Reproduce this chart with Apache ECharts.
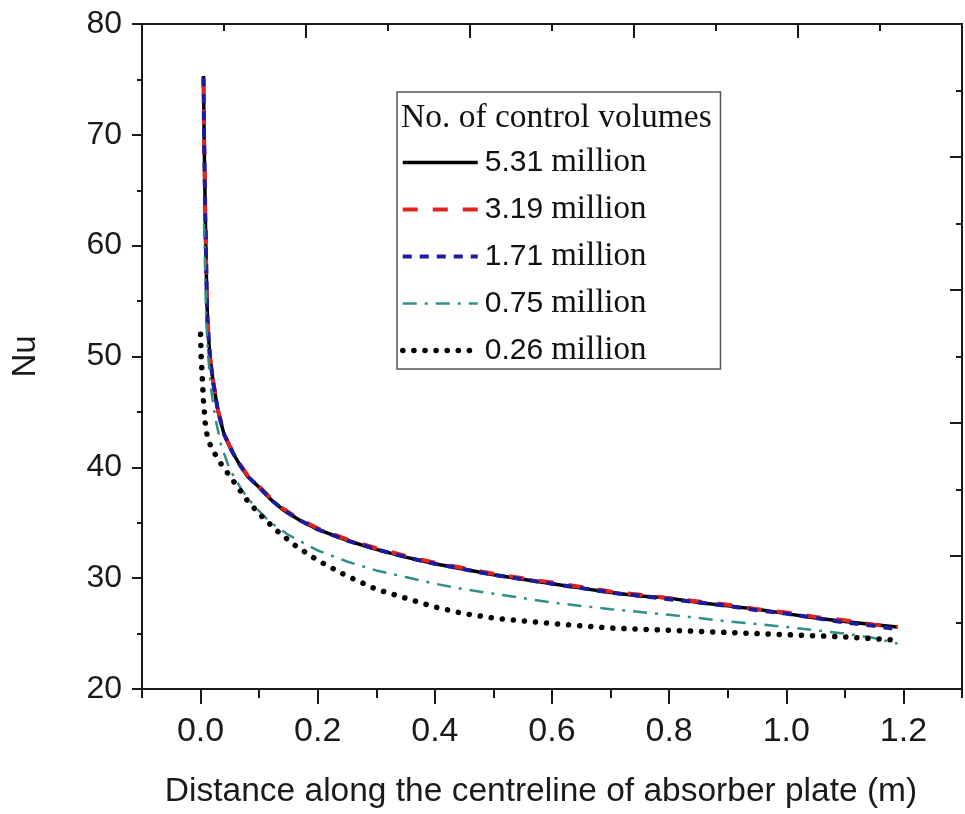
<!DOCTYPE html>
<html>
<head>
<meta charset="utf-8">
<script src="https://cdn.jsdelivr.net/npm/echarts@6/dist/echarts.min.js"></script>
<style>
html,body{margin:0;padding:0;background:#fff}
#chart{width:965px;height:814px}
</style>
</head>
<body>
<div id="chart"></div>
<script>
// distance along centreline (m) for the fine grids
var xFine = [0.005,0.006,0.008,0.010,0.012,0.016,0.022,0.03,0.04,0.05,0.066,0.08,0.1,0.12,0.14,0.17,0.2,0.25,0.3,0.35,0.4,0.45,0.5,0.55,0.6,0.65,0.7,0.75,0.8,0.85,0.9,0.95,1.0,1.05,1.1,1.15,1.19];
var nu531 = [75.3,70,63,57,53,50,47.5,45,43,41.8,40.3,39.2,38.2,37.1,36.2,35.2,34.4,33.4,32.6,31.9,31.3,30.8,30.3,29.9,29.5,29.1,28.7,28.4,28.2,27.8,27.5,27.2,26.8,26.4,26.1,25.8,25.6];
var nu319 = [75.0,69.8,62.8,56.9,53.0,50.0,47.6,45.1,43.1,41.9,40.4,39.3,38.3,37.2,36.3,35.3,34.5,33.5,32.7,32.0,31.4,30.9,30.4,30.0,29.6,29.2,28.8,28.5,28.2,27.9,27.6,27.2,26.9,26.5,26.2,25.8,25.6];
var nu171 = [75.2,69.9,62.9,57.0,53.0,50.0,47.5,45.0,43.0,41.8,40.3,39.2,38.2,37.1,36.2,35.2,34.4,33.4,32.6,31.9,31.3,30.8,30.3,29.9,29.5,29.1,28.7,28.4,28.1,27.8,27.5,27.1,26.8,26.4,26.0,25.7,25.4];
// 0.75 million
var x075 = [0.006,0.008,0.010,0.013,0.018,0.025,0.035,0.05,0.07,0.09,0.12,0.15,0.2,0.25,0.3,0.35,0.4,0.45,0.5,0.6,0.7,0.8,0.9,1.0,1.1,1.15,1.19];
var nu075 = [62,57,53,50,47,44.5,42,39.8,38,36.6,35,33.9,32.5,31.5,30.7,30.1,29.5,29.0,28.6,27.8,27.2,26.7,26.1,25.6,25.0,24.6,24.1];
// 0.26 million
var x026 = [0.0,0.001,0.003,0.005,0.008,0.012,0.02,0.035,0.05,0.065,0.08,0.1,0.13,0.16,0.2,0.25,0.3,0.35,0.4,0.45,0.5,0.6,0.7,0.8,0.9,1.0,1.1,1.19];
var nu026 = [52,50,48,46,44,42.6,41.6,40.3,39.2,38.1,37.0,35.8,34.3,33.0,31.6,30.2,29.0,28.2,27.4,26.8,26.4,25.9,25.5,25.3,25.1,24.9,24.7,24.4];

var names = ['5.31 million','3.19 million','1.71 million','0.75 million','0.26 million'];
var xTickLabels = ['-0.1','0.0','0.1','0.2','0.3','0.4','0.5','0.6','0.7','0.8','0.9','1.0','1.1','1.2','1.3'];

function pairs(xs, ys) {
    var out = [];
    for (var i = 0; i < xs.length; i++) out.push([xs[i], ys[i]]);
    return out;
}

var styles = [
    {color: '#000', width: 3.5, type: 'solid'},
    {color: '#e3231e', width: 4, type: [15, 15]},
    {color: '#1c1c9c', width: 4, type: [9, 8]},
    {color: '#2f8f8a', width: 2.5, type: [14, 8, 3, 8]},
    {color: '#000', width: 5.5, type: [0.1, 11], cap: 'round'}
];
var lineData = [pairs(xFine, nu531), pairs(xFine, nu319), pairs(xFine, nu171), pairs(x075, nu075), pairs(x026, nu026)];

var axisCol = '#1a1a1a';
var myChart = echarts.init(document.getElementById('chart'));

var option = {
    backgroundColor: '#fff',
    animation: false,
    grid: {left: 142, right: 3, top: 24, bottom: 124, containLabel: false},
    graphic: [{
        type: 'text', left: 401, top: 101, z: 100,
        style: {text: 'No. of control volumes', fontFamily: 'Liberation Serif', fontSize: 33.5, fill: '#111'}
    }],
    legend: {
        orient: 'vertical', left: 397, top: 92,
        data: names.map(function (n, i) {
            return {name: n, lineStyle: styles[i], itemStyle: {opacity: 0}};
        }),
        itemWidth: 75, itemHeight: 14, itemGap: 14,
        padding: [54, 74, 2, 3],
        borderColor: '#555', borderWidth: 1.5, borderRadius: 0,
        backgroundColor: '#fff',
        itemStyle: {opacity: 0},
        formatter: function (n) { return '{n|' + n.split(' ')[0] + '}{m|million}'; },
        textStyle: {
            lineHeight: 32,
            rich: {
                n: {fontFamily: 'Liberation Sans', fontSize: 30, color: '#111', padding: [0, 8, 0, 2]},
                m: {fontFamily: 'Liberation Serif', fontSize: 33, color: '#111'}
            }
        }
    },
    xAxis: [{
        type: 'value', position: 'bottom', min: -0.1, max: 1.3, interval: 0.1,
        axisLine: {show: true, onZero: false, lineStyle: {color: axisCol, width: 2}},
        axisTick: {show: true, inside: false, length: 9, lineStyle: {color: axisCol, width: 2}},
        axisLabel: {show: false}, splitLine: {show: false}
    }, {
        type: 'category', position: 'bottom', boundaryGap: false, data: xTickLabels,
        axisLine: {show: false, onZero: false},
        axisTick: {show: true, inside: false, length: 15, interval: function (i) { return i % 2 === 1; }, lineStyle: {color: axisCol, width: 2}},
        axisLabel: {show: true, interval: function (i) { return i % 2 === 1; }, margin: 26, fontFamily: 'Liberation Sans', fontSize: 34, color: axisCol},
        splitLine: {show: false},
        name: 'Distance along the centreline of absorber plate (m)', nameLocation: 'middle', nameGap: 86,
        nameTextStyle: {fontFamily: 'Liberation Sans', fontSize: 33.5, color: axisCol, padding: [0, 22, 0, 0]}
    }, {
        type: 'value', position: 'top', min: 0, max: 5, interval: 1,
        axisLine: {show: true, onZero: false, lineStyle: {color: axisCol, width: 2}},
        axisTick: {show: true, inside: true, length: 14, lineStyle: {color: axisCol, width: 2}},
        minorTick: {show: true, splitNumber: 2, length: 7, lineStyle: {color: axisCol, width: 2}},
        axisLabel: {show: false}, splitLine: {show: false}
    }],
    yAxis: [{
        type: 'value', position: 'left', min: 20, max: 80, interval: 10,
        axisLine: {show: true, onZero: false, lineStyle: {color: axisCol, width: 2}},
        axisTick: {show: true, inside: false, length: 10, lineStyle: {color: axisCol, width: 2}},
        minorTick: {show: true, splitNumber: 2, length: 5, lineStyle: {color: axisCol, width: 2}},
        axisLabel: {margin: 20, fontFamily: 'Liberation Sans', fontSize: 32, color: axisCol},
        splitLine: {show: false},
        name: 'Nu', nameLocation: 'middle', nameGap: 100, nameRotate: 90,
        nameTextStyle: {fontFamily: 'Liberation Sans', fontSize: 33, color: axisCol}
    }, {
        type: 'value', position: 'right', min: 0, max: 5, interval: 1,
        axisLine: {show: true, onZero: false, lineStyle: {color: axisCol, width: 2}},
        axisTick: {show: true, inside: true, length: 12, lineStyle: {color: axisCol, width: 2}},
        minorTick: {show: true, splitNumber: 2, length: 6, lineStyle: {color: axisCol, width: 2}},
        axisLabel: {show: false}, splitLine: {show: false}
    }],
    series: names.map(function (n, i) {
        return {
            name: n, type: 'line', xAxisIndex: 0, yAxisIndex: 0,
            symbol: 'none', showSymbol: false,
            data: lineData[i],
            lineStyle: styles[i], itemStyle: {color: styles[i].color}
        };
    })
};
myChart.setOption(option);
</script>
</body>
</html>
